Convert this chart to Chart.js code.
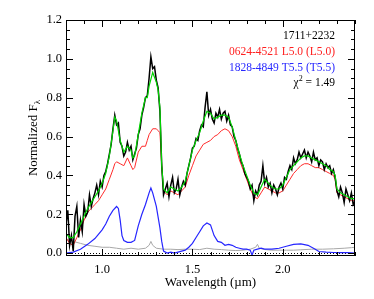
<!DOCTYPE html>
<html><head><meta charset="utf-8">
<script src="https://cdn.jsdelivr.net/npm/chart.js@4"></script>
<style>html,body{margin:0;padding:0;background:#fff}#wrap{width:374px;height:299px}</style>
</head><body><div id="wrap"><canvas id="c" width="374" height="299"></canvas></div>
<script>
// ---- data ----
const obsWave = [
0.80,0.81,0.82,0.83,0.84,0.85,0.86,0.87,0.88,0.89,
0.90,0.91,0.92,0.93,0.94,0.95,0.96,0.97,0.98,0.99,
1.00,1.01,1.02,1.03,1.04,1.05,1.06,1.07,1.08,1.09,
1.10,1.11,1.12,1.13,1.14,1.15,1.16,1.17,1.18,1.19,
1.20,1.21,1.22,1.23,1.24,1.25,1.26,1.27,1.28,1.29,
1.30,1.31,1.32,1.33,1.34,1.35,1.36,1.37,1.38,1.39,
1.40,1.41,1.42,1.43,1.44,1.45,1.46,1.47,1.48,1.49,
1.50,1.51,1.52,1.53,1.54,1.55,1.56,1.57,1.58,1.59,
1.60,1.61,1.62,1.63,1.64,1.65,1.66,1.67,1.68,1.69,
1.70,1.71,1.72,1.73,1.74,1.75,1.76,1.77,1.78,1.79,
1.80,1.81,1.82,1.83,1.84,1.85,1.86,1.87,1.88,1.89,
1.90,1.91,1.92,1.93,1.94,1.95,1.96,1.97,1.98,1.99,
2.00,2.01,2.02,2.03,2.04,2.05,2.06,2.07,2.08,2.09,
2.10,2.11,2.12,2.13,2.14,2.15,2.16,2.17,2.18,2.19,
2.20,2.21,2.22,2.23,2.24,2.25,2.26,2.27,2.28,2.29,
2.30,2.31,2.32,2.33,2.34,2.35,2.36,2.37,2.38,2.39,
2.40];
const obsFlux = [
0.15,0.22,0.04,0.09,0.01,0.19,0.24,0.08,0.17,0.11,
0.25,0.19,0.21,0.30,0.24,0.28,0.31,0.35,0.30,0.37,
0.34,0.40,0.42,0.46,0.51,0.56,0.64,0.71,0.66,0.67,
0.57,0.55,0.50,0.52,0.57,0.53,0.55,0.48,0.51,0.54,
0.61,0.64,0.71,0.75,0.80,0.81,0.90,1.01,0.95,0.96,
0.89,0.85,0.73,0.45,0.30,0.33,0.36,0.29,0.35,0.39,
0.31,0.33,0.38,0.30,0.34,0.37,0.35,0.41,0.45,0.49,
0.54,0.55,0.59,0.58,0.63,0.66,0.65,0.75,0.83,0.71,
0.74,0.69,0.67,0.72,0.70,0.74,0.69,0.72,0.73,0.68,
0.71,0.66,0.65,0.60,0.58,0.54,0.51,0.47,0.45,0.41,
0.39,0.37,0.33,0.35,0.27,0.32,0.30,0.35,0.37,0.45,
0.36,0.39,0.34,0.36,0.31,0.35,0.33,0.30,0.34,0.36,
0.33,0.39,0.38,0.42,0.45,0.43,0.49,0.46,0.48,0.52,
0.49,0.51,0.53,0.49,0.52,0.50,0.47,0.52,0.48,0.49,
0.45,0.48,0.47,0.43,0.46,0.44,0.45,0.41,0.43,0.39,
0.32,0.29,0.34,0.31,0.26,0.33,0.30,0.27,0.31,0.25,
0.27];
const modelWave = [
0.80,0.82,0.84,0.86,0.88,0.90,0.92,0.94,0.96,0.98,1.00,1.02,1.04,1.06,1.07,1.08,1.10,1.12,1.14,1.16,
1.17,1.18,1.20,1.22,1.24,1.25,1.26,1.28,1.30,1.31,1.32,1.33,1.34,1.36,1.38,1.40,1.42,1.44,1.46,1.48,
1.50,1.52,1.54,1.56,1.58,1.60,1.62,1.64,1.66,1.68,1.70,1.72,1.74,1.76,1.78,1.80,1.82,1.84,1.86,1.88,
1.90,1.92,1.94,1.96,1.98,2.00,2.02,2.04,2.06,2.08,2.10,2.12,2.14,2.16,2.18,2.20,2.22,2.24,2.26,2.28,
2.29,2.30,2.32,2.34,2.36,2.38,2.40];
const compositeFlux = [
0.10,0.08,0.08,0.11,0.15,0.19,0.23,0.26,0.29,0.32,0.36,0.41,0.50,0.63,0.70,0.68,0.58,0.52,0.55,0.53,
0.49,0.50,0.61,0.72,0.80,0.80,0.86,0.93,0.88,0.84,0.75,0.45,0.33,0.31,0.34,0.33,0.32,0.34,0.37,0.45,
0.53,0.58,0.62,0.68,0.73,0.72,0.69,0.70,0.71,0.71,0.70,0.65,0.58,0.51,0.45,0.40,0.35,0.31,0.30,0.34,
0.38,0.36,0.34,0.33,0.33,0.35,0.39,0.43,0.45,0.47,0.49,0.50,0.50,0.49,0.48,0.47,0.46,0.45,0.43,0.42,
0.40,0.33,0.31,0.30,0.29,0.28,0.28];
const lDwarfFlux = [
0.08,0.05,0.04,0.08,0.12,0.17,0.21,0.23,0.25,0.27,0.30,0.33,0.38,0.43,0.46,0.47,0.46,0.45,0.49,0.45,
0.43,0.44,0.52,0.55,0.55,0.58,0.61,0.64,0.64,0.63,0.62,0.45,0.32,0.30,0.32,0.31,0.30,0.32,0.34,0.40,
0.45,0.50,0.53,0.56,0.57,0.58,0.60,0.61,0.63,0.64,0.63,0.60,0.55,0.48,0.43,0.38,0.33,0.29,0.28,0.31,
0.34,0.33,0.32,0.31,0.31,0.32,0.35,0.38,0.41,0.43,0.45,0.46,0.46,0.45,0.44,0.44,0.43,0.42,0.41,0.40,
0.38,0.31,0.30,0.29,0.28,0.27,0.27];
const tWave = [0.80,0.84,0.88,0.92,0.96,1.00,1.02,1.04,1.06,1.08,1.09,1.10,1.11,1.12,1.14,1.16,1.18,1.20,1.22,1.24,
1.26,1.27,1.28,1.30,1.32,1.33,1.34,1.36,1.38,1.40,1.42,1.44,1.46,1.48,1.50,1.52,1.54,1.56,1.58,1.60,
1.62,1.64,1.66,1.68,1.70,1.72,1.74,1.76,1.78,1.80,1.82,1.83,1.84,1.86,1.88,1.90,1.94,1.98,2.02,2.06,
2.10,2.14,2.18,2.20,2.24,2.28,2.32,2.36,2.40];
const tDwarfFlux = [0.00,0.005,0.02,0.045,0.075,0.12,0.15,0.19,0.22,0.24,0.23,0.17,0.09,0.065,0.055,0.055,0.065,0.14,0.20,0.25,
0.31,0.335,0.31,0.24,0.13,0.06,0.01,0.00,0.005,0.00,0.005,0.01,0.015,0.03,0.05,0.08,0.11,0.14,0.155,0.145,
0.09,0.06,0.055,0.04,0.045,0.04,0.03,0.025,0.02,0.02,0.015,-0.01,0.015,0.02,0.025,0.02,0.02,0.025,0.035,0.045,
0.047,0.04,0.02,0.008,0.005,0.003,0.002,0.003,0.00];
const noiseWave = [0.80,0.84,0.88,0.92,0.96,1.00,1.04,1.08,1.12,1.16,1.20,1.24,1.26,1.27,1.28,1.30,1.34,1.38,1.42,1.46,
1.50,1.54,1.58,1.62,1.66,1.70,1.74,1.78,1.82,1.85,1.86,1.87,1.90,1.94,1.98,2.02,2.06,2.10,2.16,2.22,
2.28,2.34,2.38,2.40];
const noiseFlux = [0.07,0.06,0.05,0.04,0.035,0.03,0.03,0.025,0.02,0.025,0.02,0.025,0.04,0.06,0.04,0.025,0.02,0.02,0.018,0.02,
0.02,0.018,0.025,0.02,0.018,0.015,0.013,0.015,0.02,0.03,0.045,0.025,0.018,0.015,0.015,0.015,0.015,0.017,0.02,0.02,
0.022,0.025,0.028,0.03];
const xTickValues = [1.0,1.5,2.0];
const xMinorValues = [0.8,0.9,1.0,1.1,1.2,1.3,1.4,1.5,1.6,1.7,1.8,1.9,2.0,2.1,2.2,2.3,2.4];
const yTickValues = [0.0,0.2,0.4,0.6,0.8,1.0,1.2];
const yMinorValues = [0,0.05,0.1,0.15,0.2,0.25,0.3,0.35,0.4,0.45,0.5,0.55,0.6,0.65,0.7,0.75,0.8,0.85,0.9,0.95,1.0,1.05,1.1,1.15,1.2];
const legendLines = [
  {text:'1711+2232', color:'#000000'},
  {text:'0624-4521 L5.0 (L5.0)', color:'#ff2020'},
  {text:'1828-4849 T5.5 (T5.5)', color:'#2828ff'}
];
const chiSquared = '1.49';

// ---- chart ----
const pts = (xs, ys) => xs.map((x, i) => ({x, y: ys[i]}));
const SERIF = '"Liberation Serif", "DejaVu Serif", serif';

const frame = {
  id: 'frame',
  beforeDatasetsDraw(chart) {
    const {ctx, chartArea: a, scales: {y}} = chart;
    ctx.save();
    const y0 = Math.round(y.getPixelForValue(0)) + 0.5;
    ctx.strokeStyle = '#000'; ctx.lineWidth = 1; ctx.setLineDash([1, 2]);
    ctx.beginPath(); ctx.moveTo(a.left, y0); ctx.lineTo(a.right, y0); ctx.stroke();
    ctx.restore();
  },
  afterDraw(chart) {
    const {ctx, chartArea: a, scales: {x, y}} = chart;
    ctx.save();
    ctx.strokeStyle = '#000'; ctx.lineWidth = 1;
    ctx.strokeRect(Math.round(a.left) + 0.5, Math.round(a.top) + 0.5, Math.round(a.right - a.left) - 1, Math.round(a.bottom - a.top) - 1);
    ctx.beginPath();
    xMinorValues.forEach(v => {
      const px = Math.round(x.getPixelForValue(v)) + 0.5;
      const len = xTickValues.some(t => Math.abs(t - v) < 1e-6) ? 7 : 4;
      ctx.moveTo(px, a.bottom); ctx.lineTo(px, a.bottom - len);
      ctx.moveTo(px, a.top); ctx.lineTo(px, a.top + len);
    });
    yMinorValues.forEach(v => {
      const py = Math.round(y.getPixelForValue(v)) + 0.5;
      const len = yTickValues.some(t => Math.abs(t - v) < 1e-6) ? 7 : 4;
      ctx.moveTo(a.left, py); ctx.lineTo(a.left + len, py);
      ctx.moveTo(a.right, py); ctx.lineTo(a.right - len, py);
    });
    ctx.stroke();

    // axis titles
    ctx.fillStyle = '#000';
    ctx.font = '13px ' + SERIF;
    ctx.textAlign = 'center'; ctx.textBaseline = 'middle';
    ctx.fillText('Wavelength (µm)', (a.left + a.right) / 2, 283);
    // y title with subscript
    ctx.save();
    ctx.translate(34, (a.top + a.bottom) / 2);
    ctx.rotate(-Math.PI / 2);
    const main = 'Normalized F';
    ctx.font = '13px ' + SERIF;
    const w1 = ctx.measureText(main).width;
    ctx.font = '9px ' + SERIF;
    const w2 = ctx.measureText('λ').width;
    const start = -(w1 + w2) / 2;
    ctx.textAlign = 'left';
    ctx.font = '13px ' + SERIF;
    ctx.fillText(main, start, 0);
    ctx.font = '9px ' + SERIF;
    ctx.fillText('λ', start + w1, 4);
    ctx.restore();

    // legend text (right aligned)
    const rx = 335;
    ctx.textAlign = 'right'; ctx.textBaseline = 'middle';
    ctx.font = '11.5px ' + SERIF;
    legendLines.forEach((l, i) => {
      ctx.fillStyle = l.color;
      ctx.fillText(l.text, rx, 36 + i * 16);
    });
    ctx.fillStyle = '#000';
    const rest = ' = ' + chiSquared;
    const wr = ctx.measureText(rest).width;
    ctx.fillText(rest, rx, 83);
    ctx.font = '8px ' + SERIF;
    const ws = ctx.measureText('2').width;
    ctx.fillText('2', rx - wr, 79);
    ctx.font = '11.5px ' + SERIF;
    ctx.fillText('χ', rx - wr - ws, 83);
    ctx.restore();
  }
};

new Chart(document.getElementById('c'), {
  type: 'line',
  data: {
    datasets: [
      {label: 'noise', data: pts(noiseWave, noiseFlux), borderColor: '#a8a8a8', borderWidth: 1, order: 5},
      {label: 'T5.5', data: pts(tWave, tDwarfFlux), borderColor: '#2626ff', borderWidth: 1.2, order: 4},
      {label: 'L5.0', data: pts(modelWave, lDwarfFlux), borderColor: '#ff2a2a', borderWidth: 1, order: 3},
      {label: '1711+2232', data: pts(obsWave, obsFlux), borderColor: '#000000', borderWidth: 1.5, order: 2},
      {label: 'composite', data: pts(modelWave, compositeFlux), borderColor: '#00d400', borderWidth: 1.2, order: 1}
    ]
  },
  options: {
    responsive: false,
    animation: false,
    parsing: true,
    elements: {point: {radius: 0}, line: {tension: 0}},
    layout: {padding: {top: 20, right: 19, left: 0, bottom: 0}},
    plugins: {legend: {display: false}, tooltip: {enabled: false}},
    scales: {
      x: {
        type: 'linear', min: 0.8, max: 2.4,
        grid: {display: false, drawTicks: false},
        border: {display: false},
        afterBuildTicks: s => { s.ticks = xTickValues.map(v => ({value: v})); },
        afterFit: s => { s.height = 43; },
        ticks: {padding: 6, color: '#000', font: {family: SERIF, size: 12.5}, callback: v => v.toFixed(1), maxRotation: 0}
      },
      y: {
        type: 'linear', min: -0.015, max: 1.2,
        grid: {display: false, drawTicks: false},
        border: {display: false},
        afterBuildTicks: s => { s.ticks = yTickValues.map(v => ({value: v})); },
        afterFit: s => { s.width = 66; },
        ticks: {padding: 4, color: '#000', font: {family: SERIF, size: 12.5}, callback: v => v.toFixed(1)}
      }
    }
  },
  plugins: [frame]
});
</script>
</body></html>
